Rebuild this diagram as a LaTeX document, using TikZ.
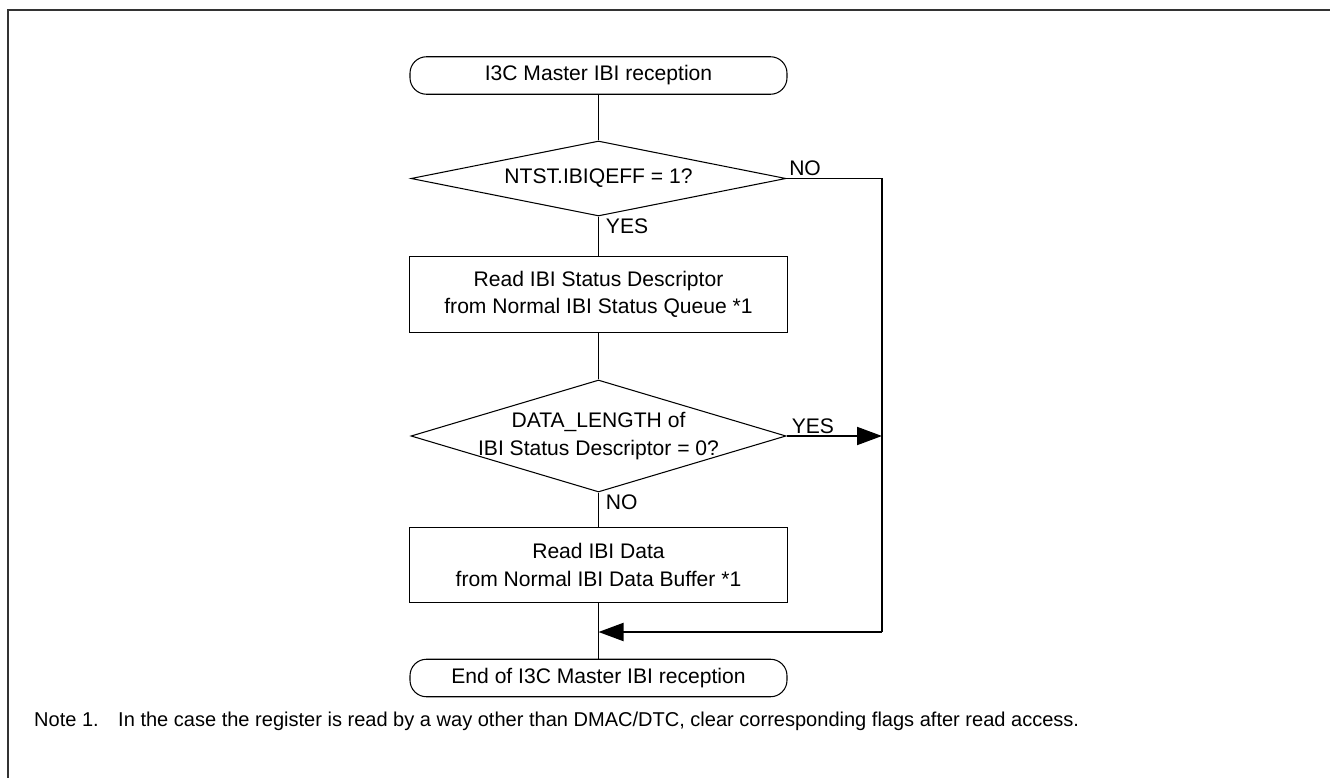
\documentclass[tikz,border=0pt]{standalone}
\usepackage{fontspec}
\setmainfont{Liberation Sans}
\usetikzlibrary{shapes.geometric,arrows.meta}

\begin{document}
\begin{tikzpicture}[every node/.style={font=\fontsize{12}{15.5}\selectfont},
  term/.style={draw, line width=0.6pt, rounded corners=0.33cm, minimum width=7.54cm, minimum height=0.75cm},
  proc/.style={draw, line width=0.6pt, align=center, minimum width=7.56cm, minimum height=1.51cm},
  decision/.style={draw, diamond, line width=0.6pt, inner sep=0pt, minimum width=7.5cm},
  flow/.style={line width=0.8pt},
  loop/.style={line width=1.1pt},
  tip/.style={-{Triangle[length=0.5cm, width=0.36cm]}}]
\useasboundingbox (0,0) rectangle (26.6,-15.56);
\draw[line width=1.2pt, black!80] (26.6,-0.2) -- (0.16,-0.2) -- (0.16,-15.56);

\node[term] (start) at (11.97,-1.51) {I3C Master IBI reception};
\node[decision, minimum height=1.5cm,
  label={center:NTST.IBIQEFF = 1?}] (qeff) at (11.97,-3.57) {};
\node[proc] (rdsts) at (11.97,-5.89) {Read IBI Status Descriptor\\from Normal IBI Status Queue *1};
\node[decision, minimum height=2.24cm,
  label={[align=center]center:DATA\_LENGTH of\\IBI Status Descriptor = 0?}] (dlen) at (11.97,-8.72) {};
\node[proc] (rddat) at (11.97,-11.3) {Read IBI Data\\from Normal IBI Data Buffer *1};
\node[term] (finish) at (11.97,-13.56) {End of I3C Master IBI reception};
\coordinate (rtop) at (17.64,-3.57);
\coordinate (rmid) at (17.64,-8.72);
\coordinate (rbot) at (17.64,-12.64);
\coordinate (join) at (11.97,-12.64);

\draw[flow] (start) -- (qeff);
\draw[flow] (qeff) -- node[pos=0, anchor=north west, inner sep=1pt, xshift=0.1cm] {YES} (rdsts);
\draw[flow] (rdsts) -- (dlen);
\draw[flow] (dlen) -- node[pos=0, anchor=north west, inner sep=1pt, xshift=0.1cm] {NO} (rddat);
\draw[flow] (rddat) -- (finish);
\draw[loop] (qeff.east) node[anchor=south west, inner sep=1pt] {NO} -- (rtop) -- (rbot);
\draw[loop, tip] (dlen.east) node[anchor=south west, inner sep=1pt, xshift=0.05cm] {YES} -- (rmid);
\draw[loop, tip] (rbot) -- (join);

\node[anchor=west, font=\fontsize{11.4}{14}\selectfont] (note) at (0.56,-14.42) {Note 1.\hspace{0.6em} In the case the register is read by a way other than DMAC/DTC, clear corresponding flags after read access.};
\end{tikzpicture}
\end{document}
